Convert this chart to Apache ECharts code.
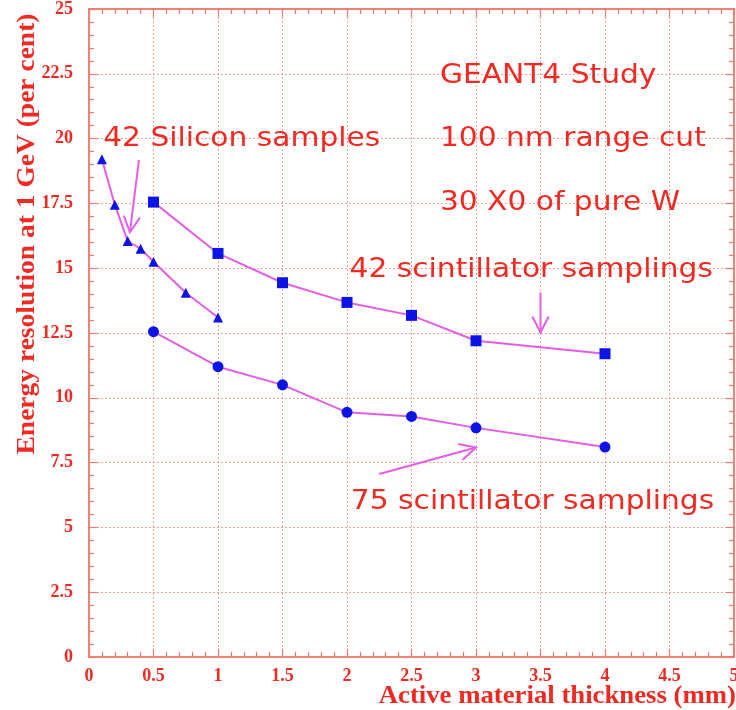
<!DOCTYPE html>
<html>
<head>
<meta charset="utf-8">
<script src="https://cdn.jsdelivr.net/npm/echarts@6/dist/echarts.min.js"></script>
<style>
  html, body { margin: 0; padding: 0; background: #ffffff; }
  #chart { width: 736px; height: 710px; }
</style>
</head>
<body>
<div id="chart"></div>
<script>
// Energy resolution vs. active material thickness
const siliconX = [0.1, 0.2, 0.3, 0.4, 0.5, 0.75, 1.0];
const siliconY = [19.2, 17.45, 16.05, 15.75, 15.25, 14.05, 13.1];

const scint42X = [0.5, 1.0, 1.5, 2.0, 2.5, 3.0, 4.0];
const scint42Y = [17.55, 15.57, 14.44, 13.68, 13.18, 12.2, 11.7];

const scint75X = [0.5, 1.0, 1.5, 2.0, 2.5, 3.0, 4.0];
const scint75Y = [12.55, 11.2, 10.5, 9.44, 9.28, 8.84, 8.1];

// Text notes, anchored at their left edge, in data units
const noteText = ['GEANT4 Study', '100 nm range cut', '30 X0 of pure W',
                  '42 Silicon samples', '42 scintillator samplings', '75 scintillator samplings'];
const noteX = [2.72, 2.72, 2.72, 0.11, 2.02, 2.03];
const noteY = [22.4, 19.98, 17.5, 19.98, 14.95, 5.99];

// Pointer arrows (tail -> tip), in data units
const arrowFrom = [[0.387, 19.17], [3.5, 14.06], [2.25, 7.06]];
const arrowTo   = [[0.317, 16.38], [3.5, 12.52], [3.0, 8.08]];

const RED = '#ee2a22';
const AXIS = '#f07a6c';
const GRIDC = '#f3a09a';
const LINE = '#e45ee4';
const MARK = '#0a14e6';

const zip = (xs, ys) => xs.map((x, i) => [x, ys[i]]);

const chart = echarts.init(document.getElementById('chart'), null, { renderer: 'canvas' });

const tickFont = { color: RED, fontFamily: 'Liberation Serif', fontWeight: 'bold', fontSize: 18 };

function axisBase(extra) {
  return Object.assign({
    axisLine: { show: true, onZero: false, lineStyle: { color: AXIS, width: 1.5 } },
    axisTick: { show: true, inside: true, length: 8, lineStyle: { color: AXIS, width: 1.2 } },
    minorTick: { show: true, splitNumber: 5, length: 5, lineStyle: { color: AXIS, width: 1.2 } },
  }, extra);
}

const option = {
  animation: false,
  backgroundColor: '#ffffff',
  grid: {
    left: 89, right: 2, top: 9, bottom: 53,
    containLabel: false, outerBoundsMode: 'none',
    show: true, borderColor: AXIS, borderWidth: 1.5, backgroundColor: 'transparent'
  },
  xAxis: [
    axisBase({
      type: 'value', min: 0, max: 5, interval: 0.5, position: 'bottom',
      axisLabel: Object.assign({ margin: 10 }, tickFont),
      splitLine: { show: true, lineStyle: { color: GRIDC, type: [2, 2], width: 1 } }
    }),
    axisBase({
      type: 'value', min: 0, max: 5, interval: 0.5, position: 'top',
      axisLabel: { show: false }, splitLine: { show: false }
    })
  ],
  yAxis: [
    axisBase({
      type: 'value', min: 0, max: 25, interval: 2.5, position: 'left',
      axisLabel: Object.assign({ margin: 16 }, tickFont),
      splitLine: { show: true, lineStyle: { color: GRIDC, type: [2, 2], width: 1 } }
    }),
    axisBase({
      type: 'value', min: 0, max: 25, interval: 2.5, position: 'right',
      axisLabel: { show: false }, splitLine: { show: false }
    })
  ],
  graphic: [
    {
      type: 'text', x: 28, y: 234, rotation: Math.PI / 2, scaleX: 1.1,
      style: {
        text: 'Energy resolution at 1 GeV (per cent)', fill: RED,
        font: 'bold 25px "Liberation Serif"', align: 'center', verticalAlign: 'middle'
      }
    },
    {
      type: 'text', x: 736, y: 697, scaleX: 1.07,
      style: {
        text: 'Active material thickness (mm)', fill: RED,
        font: 'bold 25px "Liberation Serif"', align: 'right', verticalAlign: 'middle'
      }
    }
  ],
  series: [
    {
      name: '42 scintillator samplings', type: 'line', data: zip(scint42X, scint42Y),
      symbol: 'rect', symbolSize: 11,
      lineStyle: { color: LINE, width: 2 }, itemStyle: { color: MARK }
    },
    {
      name: '75 scintillator samplings', type: 'line', data: zip(scint75X, scint75Y),
      symbol: 'circle', symbolSize: 11,
      lineStyle: { color: LINE, width: 2 }, itemStyle: { color: MARK }
    },
    {
      name: '42 Silicon samples', type: 'line', data: zip(siliconX, siliconY),
      symbol: 'triangle', symbolSize: 10,
      lineStyle: { color: LINE, width: 2 }, itemStyle: { color: MARK }
    },
    {
      name: 'notes', type: 'custom', silent: true, clip: false,
      data: noteText.map((t, i) => [noteX[i], noteY[i], i]),
      renderItem: function (params, api) {
        const p = api.coord([api.value(0), api.value(1)]);
        return {
          type: 'text', x: p[0], y: p[1], scaleX: 1.1,
          style: {
            text: noteText[api.value(2)], fill: RED,
            font: '27px "DejaVu Sans"', align: 'left', verticalAlign: 'middle'
          }
        };
      }
    },
    {
      name: 'arrows', type: 'custom', silent: true, clip: false,
      data: arrowFrom.map((a, i) => [a[0], a[1], arrowTo[i][0], arrowTo[i][1]]),
      renderItem: function (params, api) {
        const a = api.coord([api.value(0), api.value(1)]);
        const b = api.coord([api.value(2), api.value(3)]);
        const ang = Math.atan2(b[1] - a[1], b[0] - a[0]);
        const len = 18, spread = 0.47;
        const h1 = [b[0] - len * Math.cos(ang - spread), b[1] - len * Math.sin(ang - spread)];
        const h2 = [b[0] - len * Math.cos(ang + spread), b[1] - len * Math.sin(ang + spread)];
        const st = { stroke: LINE, lineWidth: 2, fill: null };
        return {
          type: 'group',
          children: [
            { type: 'polyline', shape: { points: [a, b] }, style: st },
            { type: 'polyline', shape: { points: [h1, b, h2] }, style: st }
          ]
        };
      }
    }
  ]
};

chart.setOption(option);
</script>
</body>
</html>
